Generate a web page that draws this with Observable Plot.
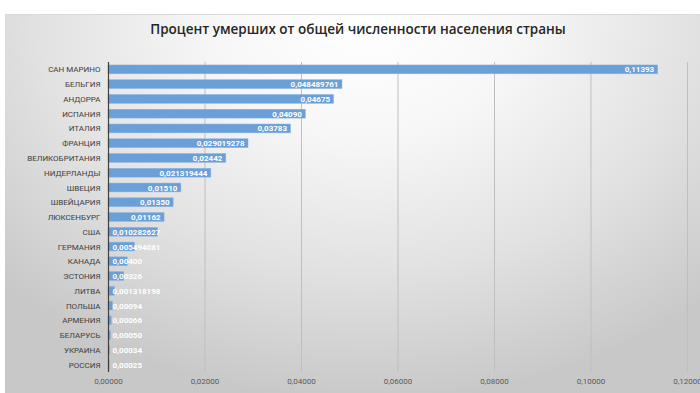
<!DOCTYPE html>
<html><head><meta charset="utf-8">
<script src="https://cdn.jsdelivr.net/npm/d3@7"></script>
<script src="https://cdn.jsdelivr.net/npm/@observablehq/plot@0.6"></script>
<style>
html,body{margin:0;padding:0;background:#fff;width:700px;height:393px;overflow:hidden;}
#bg{position:absolute;left:5px;top:14px;width:695px;height:379px;border-top:1px solid #d9d9d9;
background:radial-gradient(ellipse 72% 100% at 52% 2%, #ffffff 0%, #f7f7f7 30%, #e2e2e2 65%, #c8c8c8 100%);}
#title{position:absolute;left:0;top:20px;width:716px;text-align:center;font-family:"Open Sans",sans-serif;font-weight:600;font-size:13.5px;color:#262626;}
#chart{position:absolute;left:0;top:45px;}
</style></head>
<body>
<div id="bg"></div>
<div id="title">Процент умерших от общей численности населения страны</div>
<div id="chart"></div>
<script>
const countries = ["САН МАРИНО","БЕЛЬГИЯ","АНДОРРА","ИСПАНИЯ","ИТАЛИЯ","ФРАНЦИЯ","ВЕЛИКОБРИТАНИЯ","НИДЕРЛАНДЫ","ШВЕЦИЯ","ШВЕЙЦАРИЯ","ЛЮКСЕНБУРГ","США","ГЕРМАНИЯ","КАНАДА","ЭСТОНИЯ","ЛИТВА","ПОЛЬША","АРМЕНИЯ","БЕЛАРУСЬ","УКРАИНА","РОССИЯ"];
const values = [0.11393,0.048489761,0.04675,0.04090,0.03783,0.029019278,0.02442,0.021319444,0.01510,0.01350,0.01162,0.010282627,0.005494081,0.00400,0.00326,0.001318198,0.00094,0.00066,0.00050,0.00034,0.00025];
const labels = ["0,11393","0,048489761","0,04675","0,04090","0,03783","0,029019278","0,02442","0,021319444","0,01510","0,01350","0,01162","0,010282627","0,005494081","0,00400","0,00326","0,001318198","0,00094","0,00066","0,00050","0,00034","0,00025"];
const xTicks = [0,0.02,0.04,0.06,0.08,0.10,0.12];

const data = countries.map((c,i)=>({country:c,value:values[i],label:labels[i]}));
const W = 700, H = 348, ml = 108, mr = 13;
const pxPerUnit = (W-ml-mr)/0.12;
const fits = d => d.value*pxPerUnit > d.label.length*4.1 + 8;
const fmt = v => d3.format(".5f")(v).replace(".",",");

const chart = Plot.plot({
  width: W, height: H,
  marginLeft: ml, marginRight: mr, marginTop: 17, marginBottom: 21,
  style:{background:"transparent", fontFamily:"Roboto, sans-serif", overflow:"visible"},
  x:{domain:[0,0.12], ticks:xTicks, tickFormat:fmt, tickSize:0, tickPadding:6, label:null},
  y:{domain:countries, paddingInner:0.4, paddingOuter:0.2, round:false, tickSize:0, tickPadding:8, label:null},
  marks:[
    Plot.gridX(xTicks.slice(1), {stroke:"#bfbfbf", strokeOpacity:1, strokeWidth:1}),
    Plot.barX(data, {x:"value", y:"country", fill:"#6a9fd7", stroke:"#8db6e2", strokeWidth:0.5}),
    Plot.ruleX([0], {stroke:"#404040", strokeWidth:1.2}),
    Plot.text(data.filter(fits), {x:"value", y:"country", text:"label", textAnchor:"end", dx:-4, fill:"white", fontWeight:"bold", fontSize:8}),
    Plot.text(data.filter(d=>!fits(d)), {x:0, y:"country", text:"label", textAnchor:"start", dx:4, fill:"white", fontWeight:"bold", fontSize:8}),
    Plot.axisY({tickSize:0, tickPadding:8, fontSize:8, fill:"#404040", label:null}),
    Plot.axisX({ticks:xTicks, tickFormat:fmt, tickSize:0, tickPadding:6, fontSize:8, fill:"#595959", label:null})
  ]
});
document.getElementById("chart").appendChild(chart);
</script>
</body></html>
